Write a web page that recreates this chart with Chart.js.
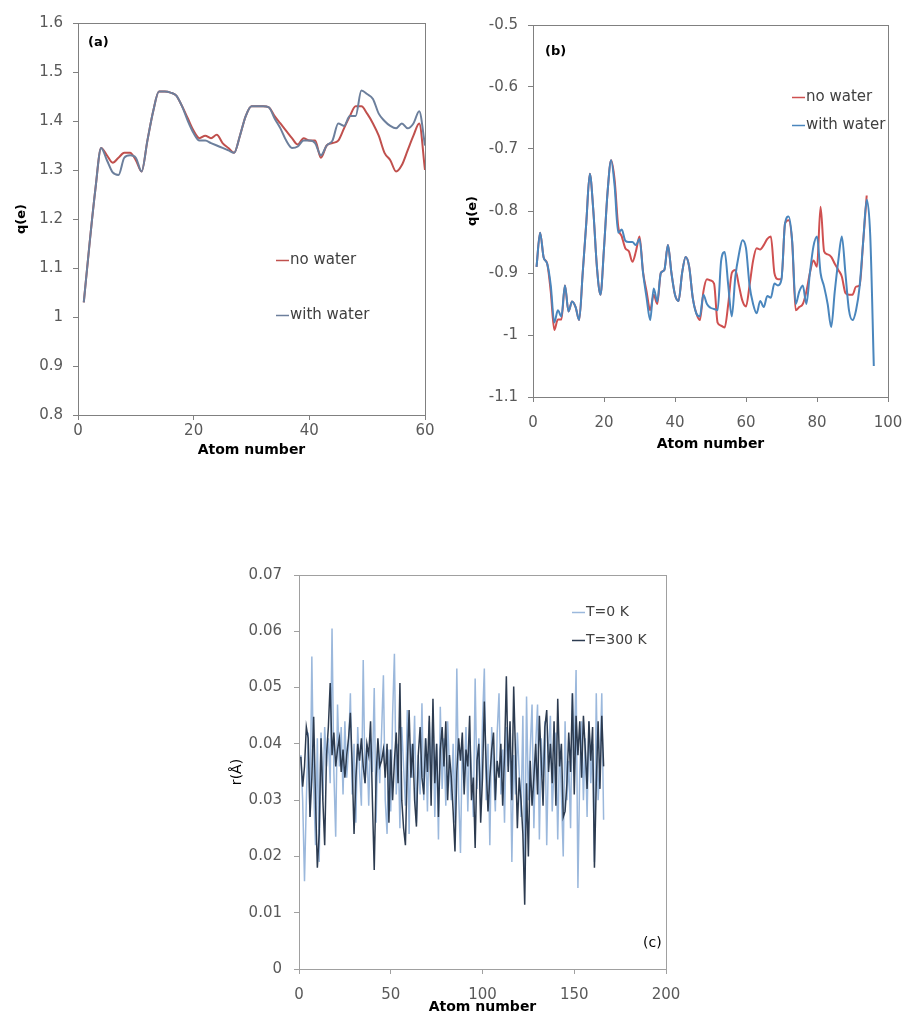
<!DOCTYPE html>
<html>
<head>
<meta charset="utf-8">
<script src="https://cdn.jsdelivr.net/npm/chart.js@4.4.0/dist/chart.umd.min.js"></script>
<style>
  html, body { margin: 0; padding: 0; background: #fff; }
  body { width: 906px; height: 1016px; position: relative; overflow: hidden; }
  canvas { position: absolute; }
</style>
</head>
<body>
<canvas id="chartA" width="450" height="465" style="left:0;top:0"></canvas>
<canvas id="chartB" width="456" height="465" style="left:450px;top:0"></canvas>
<canvas id="chartC" width="460" height="456" style="left:220px;top:560px"></canvas>
<script>
// ---- data ----
// (a) positive charges, atoms 1..60
const aNoWater = [1.03, 1.15, 1.26, 1.345, 1.33, 1.315, 1.325, 1.335, 1.335, 1.32,
  1.297, 1.36, 1.42, 1.46, 1.46, 1.458, 1.452, 1.43, 1.405, 1.38,
  1.365, 1.37, 1.365, 1.372, 1.355, 1.345, 1.335, 1.37, 1.41, 1.43,
  1.43, 1.43, 1.428, 1.41, 1.395, 1.38, 1.365, 1.352, 1.365, 1.36,
  1.36, 1.325, 1.35, 1.355, 1.36, 1.385, 1.41, 1.43, 1.43, 1.415,
  1.395, 1.37, 1.335, 1.32, 1.297, 1.31, 1.34, 1.37, 1.395, 1.3];
const aWithWater = [1.03, 1.15, 1.26, 1.345, 1.32, 1.295, 1.29, 1.325, 1.33, 1.325,
  1.297, 1.36, 1.42, 1.46, 1.46, 1.458, 1.452, 1.43, 1.4, 1.375,
  1.36, 1.36, 1.355, 1.35, 1.345, 1.34, 1.335, 1.37, 1.41, 1.43,
  1.43, 1.43, 1.428, 1.405, 1.385, 1.36, 1.345, 1.348, 1.36, 1.36,
  1.355, 1.33, 1.35, 1.36, 1.395, 1.39, 1.41, 1.41, 1.462, 1.455,
  1.445, 1.415, 1.4, 1.39, 1.385, 1.395, 1.385, 1.395, 1.42, 1.35];
const aXTicks = [0, 20, 40, 60];
const aYTicks = [0.8, 0.9, 1, 1.1, 1.2, 1.3, 1.4, 1.5, 1.6];

// (b) negative charges
const bNoWater = [-0.89, -0.835, -0.875, -0.885, -0.93, -0.992, -0.975, -0.975, -0.92, -0.962,
  -0.946, -0.955, -0.976, -0.9, -0.82, -0.74, -0.8, -0.89, -0.935, -0.86,
  -0.77, -0.718, -0.75, -0.825, -0.841, -0.86, -0.865, -0.882, -0.865, -0.841,
  -0.898, -0.93, -0.96, -0.935, -0.95, -0.9, -0.895, -0.855, -0.9, -0.935,
  -0.945, -0.9, -0.874, -0.89, -0.94, -0.965, -0.976, -0.93, -0.91, -0.912,
  -0.917, -0.98, -0.985, -0.988, -0.95, -0.9, -0.895, -0.92, -0.945, -0.954,
  -0.92, -0.88, -0.86, -0.862, -0.855, -0.845, -0.841, -0.9, -0.91, -0.91,
  -0.82, -0.815, -0.85, -0.96, -0.955, -0.95, -0.93, -0.9, -0.88, -0.89,
  -0.793, -0.865, -0.87, -0.874, -0.885, -0.895, -0.906, -0.932, -0.935, -0.935,
  -0.922, -0.92, -0.85, -0.775];
const bWithWater = [-0.89, -0.835, -0.875, -0.885, -0.92, -0.98, -0.96, -0.97, -0.92, -0.962,
  -0.946, -0.955, -0.976, -0.9, -0.82, -0.74, -0.8, -0.89, -0.935, -0.86,
  -0.77, -0.718, -0.76, -0.835, -0.83, -0.848, -0.85, -0.85, -0.855, -0.845,
  -0.9, -0.94, -0.976, -0.925, -0.946, -0.9, -0.895, -0.855, -0.9, -0.935,
  -0.945, -0.9, -0.874, -0.89, -0.94, -0.965, -0.97, -0.935, -0.95, -0.956,
  -0.958, -0.96, -0.88, -0.866, -0.92, -0.97, -0.906, -0.87, -0.847, -0.86,
  -0.92, -0.95, -0.965, -0.945, -0.955, -0.937, -0.94, -0.917, -0.92, -0.91,
  -0.82, -0.809, -0.848, -0.95, -0.93, -0.92, -0.95, -0.9, -0.857, -0.841,
  -0.9, -0.922, -0.95, -0.987, -0.93, -0.88, -0.841, -0.9, -0.96, -0.976,
  -0.96, -0.922, -0.85, -0.782, -0.84, -1.05];
const bXTicks = [0, 20, 40, 60, 80, 100];
const bYTicks = [-1.1, -1, -0.9, -0.8, -0.7, -0.6, -0.5];

// (c) displacement r per atom
const cT0 = [0.038, 0.030, 0.0156, 0.030, 0.042, 0.027, 0.0555, 0.032, 0.022, 0.041,
  0.019, 0.042, 0.030, 0.043, 0.036, 0.041, 0.033, 0.0605, 0.035, 0.0235,
  0.047, 0.036, 0.043, 0.031, 0.044, 0.034, 0.039, 0.049, 0.031, 0.040,
  0.026, 0.043, 0.035, 0.029, 0.0549, 0.033, 0.040, 0.029, 0.041, 0.035,
  0.0499, 0.026, 0.040, 0.033, 0.042, 0.0522, 0.030, 0.024, 0.039, 0.028,
  0.045, 0.056, 0.031, 0.040, 0.025, 0.043, 0.036, 0.029, 0.046, 0.024,
  0.040, 0.034, 0.045, 0.026, 0.038, 0.031, 0.0472, 0.030, 0.041, 0.028,
  0.044, 0.033, 0.046, 0.027, 0.040, 0.023, 0.0466, 0.032, 0.041, 0.029,
  0.044, 0.036, 0.030, 0.040, 0.026, 0.0534, 0.031, 0.0206, 0.040, 0.033,
  0.043, 0.028, 0.041, 0.035, 0.027, 0.0516, 0.032, 0.041, 0.029, 0.044,
  0.0534, 0.030, 0.040, 0.022, 0.043, 0.035, 0.028, 0.042, 0.049, 0.031,
  0.039, 0.026, 0.043, 0.036, 0.041, 0.019, 0.038, 0.031, 0.042, 0.035,
  0.027, 0.045, 0.016, 0.0484, 0.030, 0.039, 0.047, 0.025, 0.040, 0.047,
  0.023, 0.041, 0.034, 0.044, 0.022, 0.039, 0.045, 0.028, 0.036, 0.042,
  0.023, 0.040, 0.031, 0.020, 0.044, 0.030, 0.037, 0.025, 0.049, 0.038,
  0.0531, 0.0144, 0.035, 0.044, 0.030, 0.041, 0.027, 0.044, 0.033, 0.040,
  0.019, 0.049, 0.030, 0.036, 0.049, 0.0265];
const cT300 = [0.0377, 0.0324, 0.036, 0.043, 0.041, 0.027, 0.034, 0.0448, 0.030, 0.018,
  0.024, 0.041, 0.030, 0.022, 0.038, 0.043, 0.0508, 0.038, 0.042, 0.036,
  0.039, 0.041, 0.035, 0.039, 0.034, 0.038, 0.041, 0.0455, 0.036, 0.024,
  0.034, 0.040, 0.037, 0.041, 0.036, 0.033, 0.040, 0.038, 0.044, 0.030,
  0.0176, 0.034, 0.041, 0.036, 0.037, 0.039, 0.034, 0.040, 0.026, 0.039,
  0.030, 0.037, 0.042, 0.033, 0.0508, 0.030, 0.025, 0.022, 0.036, 0.046,
  0.034, 0.040, 0.030, 0.0253, 0.038, 0.043, 0.034, 0.031, 0.041, 0.035,
  0.045, 0.029, 0.048, 0.033, 0.040, 0.027, 0.039, 0.043, 0.036, 0.044,
  0.030, 0.038, 0.034, 0.028, 0.0209, 0.035, 0.041, 0.037, 0.042, 0.031,
  0.039, 0.036, 0.045, 0.030, 0.034, 0.0215, 0.037, 0.040, 0.026, 0.034,
  0.0475, 0.036, 0.028, 0.034, 0.039, 0.042, 0.030, 0.037, 0.034, 0.040,
  0.029, 0.038, 0.052, 0.035, 0.044, 0.030, 0.0502, 0.038, 0.025, 0.034,
  0.030, 0.024, 0.0114, 0.033, 0.020, 0.037, 0.029, 0.034, 0.040, 0.031,
  0.045, 0.037, 0.029, 0.043, 0.046, 0.035, 0.040, 0.033, 0.044, 0.029,
  0.048, 0.036, 0.040, 0.027, 0.028, 0.033, 0.042, 0.035, 0.049, 0.031,
  0.045, 0.038, 0.044, 0.034, 0.045, 0.039, 0.032, 0.044, 0.037, 0.043,
  0.018, 0.033, 0.044, 0.032, 0.045, 0.036];
const cXTicks = [0, 50, 100, 150, 200];
const cYTicks = [0, 0.01, 0.02, 0.03, 0.04, 0.05, 0.06, 0.07];

// ---- helpers ----
const FONT = "'DejaVu Sans', 'Open Sans', sans-serif";

// atom numbers start at 1
function points(values) {
  return values.map((v, i) => ({ x: i + 1, y: v }));
}

// frame around the plot area, panel tag and an Excel-like legend inside the plot
const panelDecor = {
  id: 'panelDecor',
  afterDraw(chart, args, opts) {
    const ctx = chart.ctx;
    const a = chart.chartArea;
    ctx.save();
    ctx.strokeStyle = opts.frameColor;
    ctx.lineWidth = 1;
    ctx.strokeRect(Math.round(a.left) + 0.5, Math.round(a.top) + 0.5,
      Math.round(a.right - a.left), Math.round(a.bottom - a.top));

    ctx.fillStyle = '#000';
    ctx.textBaseline = 'middle';
    ctx.textAlign = 'left';
    ctx.font = opts.tagFont;
    ctx.fillText(opts.tag, opts.tagX, opts.tagY);

    ctx.font = opts.legendFont;
    opts.legendOrder.forEach((di, k) => {
      const ds = chart.data.datasets[di];
      const y = opts.legendY[k];
      ctx.strokeStyle = ds.borderColor;
      ctx.lineWidth = 1.5;
      ctx.beginPath();
      ctx.moveTo(opts.legendX, y + 0.5);
      ctx.lineTo(opts.legendX + 13, y + 0.5);
      ctx.stroke();
      ctx.fillStyle = '#404040';
      ctx.fillText(ds.label, opts.legendX + 14, y);
    });
    ctx.restore();
  }
};

function axis(ticks, fitSize, horizontal, axisColor, tickPad, title) {
  return {
    type: 'linear',
    min: ticks[0],
    max: ticks[ticks.length - 1],
    afterBuildTicks: s => { s.ticks = ticks.map(v => ({ value: v })); },
    // fixed axis box; edge labels may hang over the padding instead of shrinking the plot
    afterFit: s => {
      if (horizontal) { s.height = fitSize; s.paddingLeft = 0; s.paddingRight = 0; }
      else { s.width = fitSize; s.paddingTop = 0; s.paddingBottom = 0; }
    },
    grid: { display: true, drawOnChartArea: false, drawTicks: true, tickLength: 5, color: axisColor },
    border: { display: true, color: axisColor, width: 1 },
    ticks: {
      padding: tickPad,
      color: '#595959',
      maxRotation: 0,
      autoSkip: false,
      font: { family: FONT, size: 15 },
      callback: v => String(v)
    },
    title: title
  };
}

function makeChart(id, datasets, xAxis, yAxis, padding, decor) {
  return new Chart(document.getElementById(id), {
    type: 'line',
    data: { datasets: datasets },
    options: {
      responsive: false,
      animation: false,
      layout: { padding: padding },
      elements: { point: { radius: 0 } },
      scales: { x: xAxis, y: yAxis },
      plugins: {
        legend: { display: false },
        tooltip: { enabled: false },
        panelDecor: decor
      }
    },
    plugins: [panelDecor]
  });
}

const xTitle = pad => ({ display: true, text: 'Atom number', color: '#000',
  font: { family: FONT, size: 14, weight: 'bold' }, padding: { top: 0, bottom: pad } });

// ---- (a) ----  (dataset 0 is drawn on top)
makeChart('chartA', [
  { label: 'with water', data: points(aWithWater), borderColor: '#6c7f9c', borderWidth: 2, cubicInterpolationMode: 'monotone' },
  { label: 'no water', data: points(aNoWater), borderColor: '#c0504d', borderWidth: 2, cubicInterpolationMode: 'monotone' }
],
  axis(aXTicks, 50, true, '#808080', 2, xTitle(6)),
  axis(aYTicks, 78, false, '#808080', 10,
    { display: true, text: 'q(e)', color: '#000', font: { family: FONT, size: 13, weight: 'bold' }, padding: { top: 14, bottom: 0 } }),
  { left: 0, top: 23, right: 25, bottom: 0 },
  { frameColor: '#808080', tag: '(a)', tagX: 88, tagY: 43, tagFont: 'bold 13px ' + FONT,
    legendFont: '15px ' + FONT, legendX: 276, legendY: [260, 315], legendOrder: [1, 0] });

// ---- (b) ----
makeChart('chartB', [
  { label: 'with water', data: points(bWithWater), borderColor: '#4a86bd', borderWidth: 2, cubicInterpolationMode: 'monotone' },
  { label: 'no water', data: points(bNoWater), borderColor: '#cf5050', borderWidth: 2, cubicInterpolationMode: 'monotone' }
],
  axis(bXTicks, 68, true, '#808080', 12, xTitle(12)),
  axis(bYTicks, 83, false, '#808080', 10,
    { display: true, text: 'q(e)', color: '#000', font: { family: FONT, size: 13, weight: 'bold' }, padding: { top: 15, bottom: 0 } }),
  { left: 0, top: 25, right: 18, bottom: 0 },
  { frameColor: '#808080', tag: '(b)', tagX: 95, tagY: 52, tagFont: 'bold 13px ' + FONT,
    legendFont: '15px ' + FONT, legendX: 342, legendY: [97, 125], legendOrder: [1, 0] });

// ---- (c) ----
makeChart('chartC', [
  { label: 'T=300 K', data: points(cT300), borderColor: '#2c3b50', borderWidth: 1.5, tension: 0 },
  { label: 'T=0 K', data: points(cT0), borderColor: '#9bb8dc', borderWidth: 1.5, tension: 0 }
],
  axis(cXTicks, 47, true, '#a0a0a0', 12, xTitle(0)),
  axis(cYTicks, 79, false, '#a0a0a0', 12,
    { display: true, text: 'r(Å)', color: '#000', font: { family: FONT, size: 14 }, padding: { top: 9, bottom: 0 } }),
  { left: 0, top: 15, right: 14, bottom: 0 },
  { frameColor: '#a0a0a0', tag: '(c)', tagX: 423, tagY: 383, tagFont: '14px ' + FONT,
    legendFont: '14px ' + FONT, legendX: 352, legendY: [52, 80], legendOrder: [1, 0] });
</script>
</body>
</html>
